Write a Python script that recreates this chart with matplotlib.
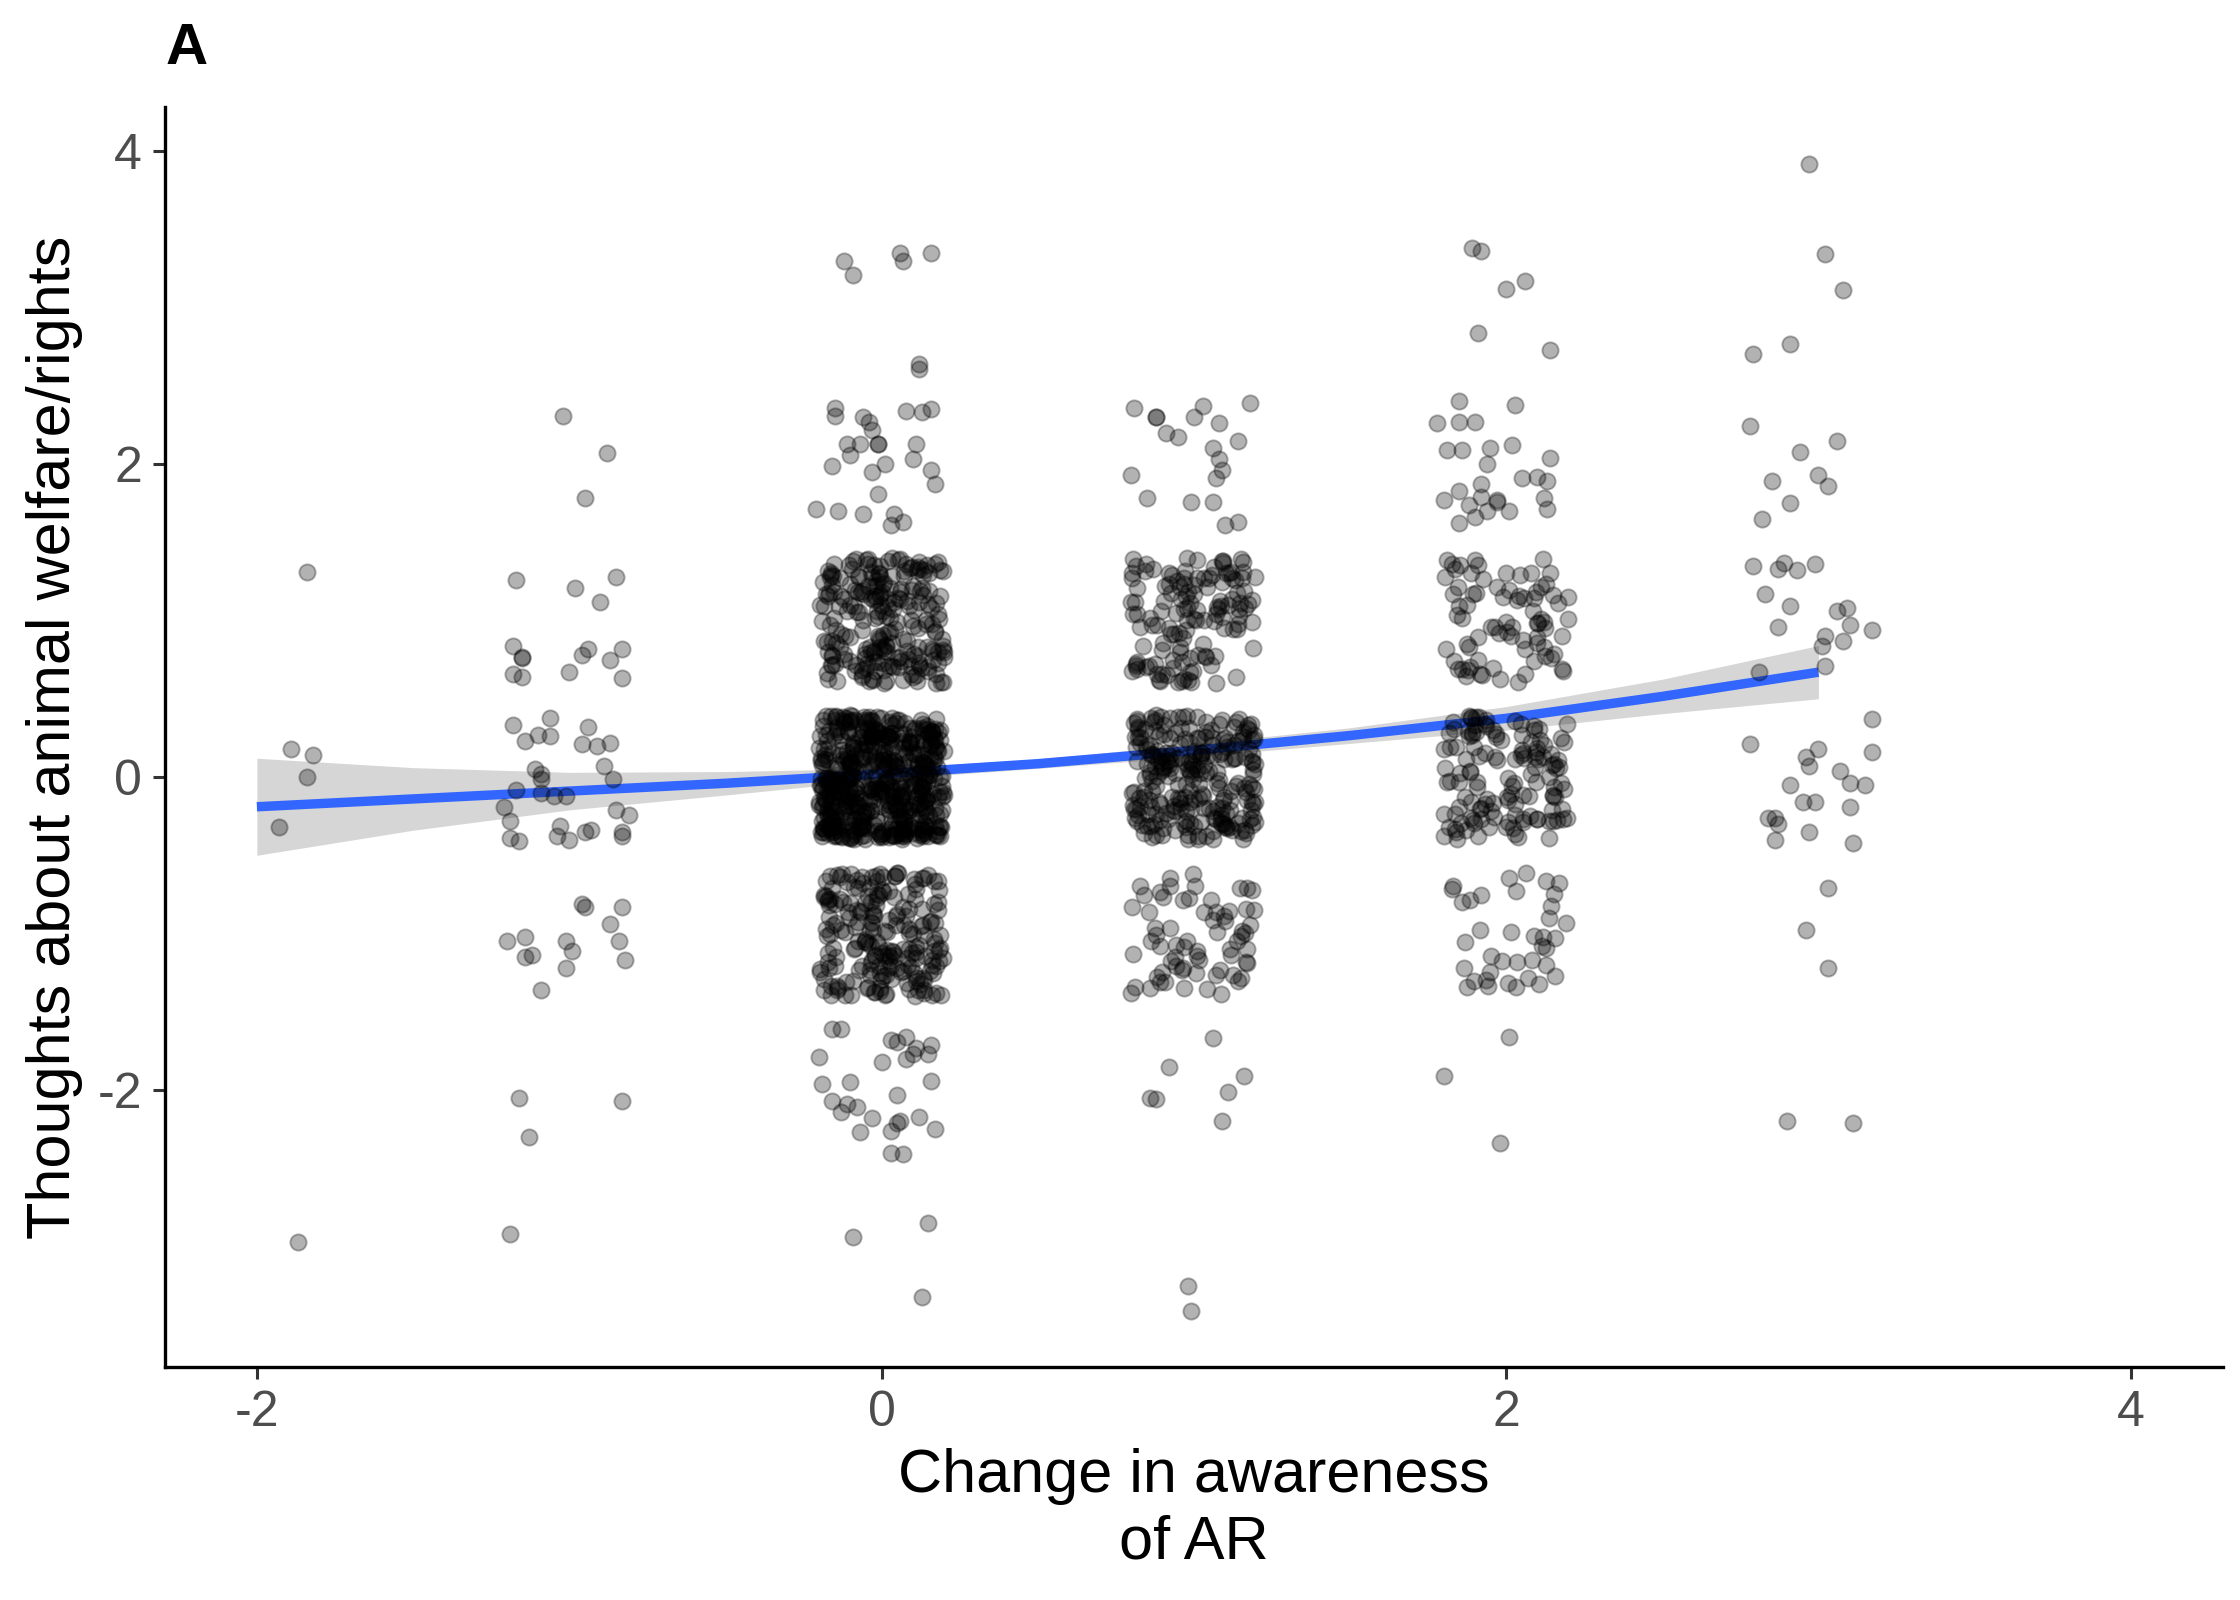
import numpy as np
import matplotlib
matplotlib.use("Agg")
import matplotlib.pyplot as plt

plt.rcParams.update(
    {
        "font.family": ["Liberation Sans", "DejaVu Sans"],
        "axes.unicode_minus": False,
    }
)

# sparse points (already jittered)
x_m2 = [-1.84, -1.89, -1.82, -1.84, -1.93, -1.87]
y_m2 = [1.31, 0.18, 0.14, 0.00, -0.32, -2.97]

x_m1 = [-1.02, -0.88, -0.95, -1.17, -0.98, -0.85, -0.90, -1.18, -1.15, -1.15,
        -1.18, -1.15, -1.00, -0.96, -0.94, -0.87, -0.83, -0.83, -1.18, -1.14,
        -1.10, -1.06, -1.06, -0.94, -0.96, -0.91, -0.87, -1.11, -1.09, -1.09,
        -0.89, -0.86, -1.17, -1.09, -1.05, -1.01, -1.21, -1.19, -1.19, -1.16,
        -1.03, -1.04, -1.00, -0.95, -0.93, -0.85, -0.81, -0.83, -0.83, -0.96,
        -0.95, -0.83, -0.87, -1.20, -1.14, -1.14, -1.12, -1.01, -0.99, -1.01,
        -0.84, -0.82, -1.09, -1.16, -0.83, -1.13, -1.19]
y_m1 = [2.31, 2.07, 1.78, 1.26, 1.21, 1.28, 1.12, 0.84, 0.76, 0.77,
        0.66, 0.64, 0.67, 0.78, 0.82, 0.75, 0.82, 0.63, 0.33, 0.23,
        0.27, 0.38, 0.26, 0.32, 0.21, 0.20, 0.22, 0.05, 0.02, -0.01,
        0.07, -0.01, -0.08, -0.10, -0.12, -0.12, -0.19, -0.28, -0.39, -0.41,
        -0.31, -0.38, -0.40, -0.35, -0.34, -0.21, -0.24, -0.35, -0.38, -0.81,
        -0.83, -0.83, -0.94, -1.05, -1.02, -1.15, -1.14, -1.05, -1.11, -1.22,
        -1.05, -1.17, -1.36, -2.05, -2.07, -2.30, -2.92]

x_0_out = [-0.12, -0.09, 0.06, 0.07, 0.16, 0.12, 0.12, -0.15, -0.15, -0.06,
           -0.04, -0.03, 0.08, 0.13, 0.16, -0.11, -0.07, -0.01, -0.01, -0.10,
           0.11, -0.16, 0.01, -0.03, 0.10, 0.16, 0.17, -0.01, -0.21, -0.14,
           -0.06, 0.04, 0.03, 0.07,
           -0.16, -0.13, -0.20, 0.03, 0.05, 0.08, 0.11, 0.10, 0.08, 0.16,
           0.15, 0.00, -0.19, -0.10, 0.16, 0.05, -0.16, -0.11, -0.13, -0.08,
           -0.03, 0.06, 0.05, 0.03, 0.12, 0.17, -0.07, 0.03, 0.07, 0.15,
           -0.09, 0.13]
y_0_out = [3.30, 3.21, 3.35, 3.30, 3.35, 2.64, 2.61, 2.36, 2.31, 2.30,
           2.27, 2.22, 2.34, 2.33, 2.35, 2.13, 2.13, 2.13, 2.13, 2.06,
           2.13, 1.99, 2.00, 1.95, 2.03, 1.96, 1.87, 1.81, 1.71, 1.70,
           1.68, 1.68, 1.61, 1.63,
           -1.61, -1.61, -1.79, -1.68, -1.69, -1.66, -1.73, -1.77, -1.80, -1.71,
           -1.77, -1.82, -1.96, -1.95, -1.94, -2.03, -2.07, -2.09, -2.14, -2.11,
           -2.18, -2.20, -2.21, -2.26, -2.17, -2.25, -2.27, -2.40, -2.41, -2.85,
           -2.94, -3.32]

x_1_out = [0.81, 0.88, 0.88, 1.03, 1.00, 1.18, 1.08, 0.91, 0.95, 1.14,
           1.06, 1.08, 1.09, 1.07, 0.80, 0.85, 0.99, 1.06, 1.10, 1.14,
           1.06, 0.92, 1.16, 1.11, 0.86, 0.88, 1.09, 0.98, 0.99]
y_1_out = [2.36, 2.30, 2.30, 2.37, 2.30, 2.39, 2.26, 2.20, 2.17, 2.15,
           2.10, 2.03, 1.96, 1.91, 1.93, 1.78, 1.76, 1.76, 1.61, 1.63,
           -1.67, -1.85, -1.91, -2.01, -2.05, -2.06, -2.20, -3.25, -3.41]

x_2_out = [1.89, 1.92, 2.00, 2.06, 1.91, 2.14, 1.85, 2.03, 1.78, 1.85,
           1.90, 1.81, 1.86, 1.95, 2.02, 1.94, 2.14, 2.05, 2.10, 2.13,
           1.92, 1.85, 1.80, 1.92, 1.97, 1.97, 1.88, 1.94, 2.01, 2.12,
           2.13, 1.90, 1.85,
           2.01, 1.80, 1.98]
y_2_out = [3.38, 3.36, 3.12, 3.17, 2.84, 2.73, 2.40, 2.38, 2.26, 2.27,
           2.27, 2.09, 2.09, 2.10, 2.12, 2.00, 2.04, 1.91, 1.92, 1.89,
           1.87, 1.83, 1.77, 1.79, 1.77, 1.76, 1.74, 1.70, 1.70, 1.78,
           1.71, 1.66, 1.62,
           -1.66, -1.91, -2.34]

x_3 = [2.97, 3.02, 3.08, 2.79, 2.91, 2.78, 2.94, 3.06, 2.85, 3.00,
       3.03, 2.91, 2.82, 2.79, 2.87, 2.89, 2.93, 2.99, 2.83, 2.91,
       2.87, 3.06, 3.09, 3.10, 3.17, 3.02, 3.01, 3.08, 3.02, 2.81,
       3.17, 2.78, 3.17, 2.96, 3.00, 2.97, 3.07, 3.10, 3.15, 2.91,
       2.95, 2.99, 3.10, 2.84, 2.86, 2.87, 2.86, 2.97, 3.11, 3.03,
       2.96, 3.03, 2.90, 3.11]
y_3 = [3.92, 3.34, 3.11, 2.70, 2.77, 2.24, 2.08, 2.15, 1.89, 1.93,
       1.86, 1.75, 1.65, 1.35, 1.33, 1.37, 1.32, 1.36, 1.17, 1.09,
       0.96, 1.06, 1.08, 0.97, 0.94, 0.90, 0.84, 0.87, 0.71, 0.67,
       0.37, 0.21, 0.16, 0.13, 0.18, 0.07, 0.04, -0.04, -0.05, -0.05,
       -0.16, -0.16, -0.19, -0.26, -0.26, -0.30, -0.40, -0.35, -0.42, -0.71,
       -0.98, -1.22, -2.20, -2.21]

# dense cells: awareness level, thoughts level, approximate number of points
block_x = [0, 0, 0, 1, 1, 1, 2, 2, 2]
block_y = [1, 0, -1, 1, 0, -1, 1, 0, -1]
block_n = [225, 540, 205, 130, 245, 68, 78, 130, 38]

# smoother
fit_x = [-2, -1.5, -1, -0.5, 0, 0.5, 1, 1.5, 2, 2.5, 3]
fit_y = [-0.19, -0.14, -0.09, -0.04, 0.02, 0.085, 0.17, 0.265, 0.375, 0.515, 0.67]
fit_se = [0.31, 0.2, 0.12, 0.075, 0.035, 0.03, 0.04, 0.05, 0.075, 0.11, 0.17]


def jitter_block(cx, cy, n, start, w=0.2, h=0.4):
    # deterministic spread inside the jitter box (geom_jitter style)
    k = np.arange(start, start + n, dtype=float)
    u = (k * 0.7548776662 + k * k * 0.41421356237) % 1.0
    v = (k * 0.5698402910 + k * k * 0.73205080757) % 1.0
    return cx + (2 * u - 1) * w, cy + (2 * v - 1) * h


fig = plt.figure(figsize=(11.2, 8), dpi=200)
ax = fig.add_axes([0.0737, 0.1456, 0.9185, 0.7874])

fit_lo = np.array(fit_y) - np.array(fit_se)
fit_hi = np.array(fit_y) + np.array(fit_se)
ax.fill_between(fit_x, fit_lo, fit_hi, color="#999999", alpha=0.4, lw=0, zorder=1)
ax.plot(fit_x, fit_y, color="#3366FF", lw=3.4, solid_capstyle="butt", zorder=2)

px = x_m2 + x_m1 + x_0_out + x_1_out + x_2_out + x_3
py = y_m2 + y_m1 + y_0_out + y_1_out + y_2_out + y_3
bx, by = [], []
start = 3
for cx, cy, n in zip(block_x, block_y, block_n):
    jx, jy = jitter_block(cx, cy, n, start)
    bx.extend(jx)
    by.extend(jy)
    start += n + 101

all_x = np.concatenate([px, bx])
all_y = np.concatenate([py, by])
ax.scatter(all_x, all_y, s=34, facecolor="black", edgecolor="black",
           linewidths=0.7, alpha=0.3, zorder=3)

ax.set_xlim(-2.294, 4.294)
ax.set_ylim(-3.77, 4.28)
ax.set_xticks([-2, 0, 2, 4])
ax.set_yticks([-2, 0, 2, 4])

for side in ["top", "right"]:
    ax.spines[side].set_visible(False)
for side in ["left", "bottom"]:
    ax.spines[side].set_linewidth(1.2)
    ax.spines[side].set_color("black")
ax.tick_params(length=4.3, width=1.1, color="#333333", labelsize=18,
               labelcolor="#4D4D4D", pad=4)

ax.set_xlabel("Change in awareness\nof AR", fontsize=22, linespacing=1.22)
ax.set_ylabel("Thoughts about animal welfare/rights", fontsize=22)
ax.xaxis.set_label_coords(0.5, -0.064)
ax.yaxis.set_label_coords(-0.040, 0.5)

fig.text(0.0737, 1 - 22 / 1600, "A", fontsize=21, fontweight="bold", va="top", ha="left")

fig.savefig("out.png", dpi=200, facecolor="white")
